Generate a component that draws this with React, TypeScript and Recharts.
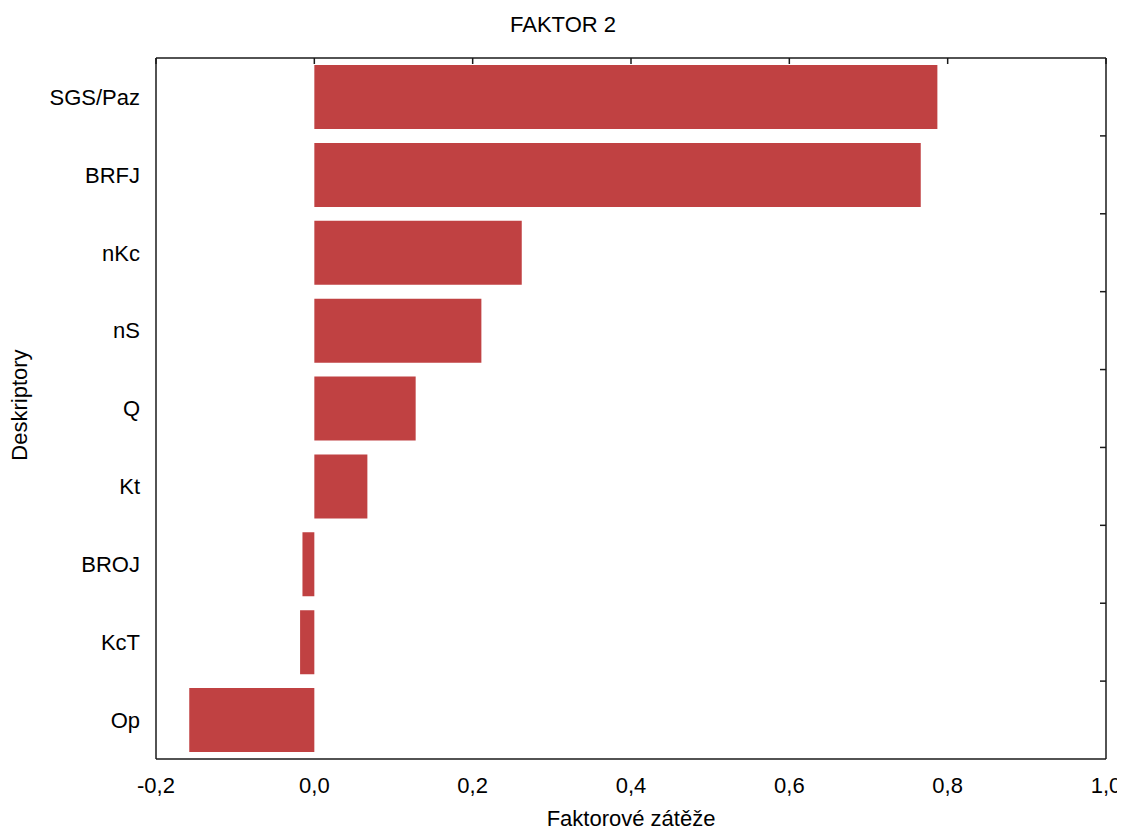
import React from 'react';
import { BarChart, Bar, XAxis, YAxis } from 'recharts';

// Loadings on factor 2, listed top to bottom
const descriptors = ['SGS/Paz', 'BRFJ', 'nKc', 'nS', 'Q', 'Kt', 'BROJ', 'KcT', 'Op'];
const loadings = [0.787, 0.766, 0.262, 0.211, 0.128, 0.067, -0.015, -0.018, -0.158];
const xTicks = [-0.2, 0, 0.2, 0.4, 0.6, 0.8, 1.0];

const data = descriptors.map((name, i) => ({ name, value: loadings[i] }));

const FONT = '"Liberation Sans", Arial, Helvetica, sans-serif';
const AXIS = '#1a1a1a';
const BAR = '#c04142';

const fmt = (v: number) => v.toFixed(1).replace('.', ',');
// frame axes keep their tick marks but show no labels
const noLabel = () => <g />;

// small inward tick on the right frame edge, between two categories
const BoundaryTick = (props: any) => {
  const { x, y, index, payload, height, visibleTicksCount } = props;
  if (index === 0) return <g />;
  const half = payload && payload.offset ? payload.offset : height / (2 * visibleTicksCount);
  const by = y - half;
  return <line x1={x} x2={x - 6} y1={by} y2={by} stroke={AXIS} strokeWidth={1.5} />;
};

export default function App() {
  return (
    <div style={{ fontFamily: FONT }}>
      <BarChart
        width={1117}
        height={824}
        data={data}
        layout="vertical"
        margin={{ top: 50, right: 19, bottom: 4, left: 0 }}
        barCategoryGap="9%"
      >
        <XAxis
          xAxisId="bottom"
          type="number"
          orientation="bottom"
          domain={[-0.2, 1.0]}
          ticks={xTicks}
          allowDataOverflow
          tickFormatter={fmt}
          tickLine={false}
          tickMargin={12}
          height={69}
          axisLine={{ stroke: AXIS, strokeWidth: 1.5 }}
          tick={{ fill: '#000', fontSize: 22, fontFamily: FONT }}
          label={{
            value: 'Faktorové zátěže',
            position: 'insideBottom',
            offset: 2,
            fill: '#000',
            fontSize: 22,
            fontFamily: FONT,
          }}
        />
        <XAxis
          xAxisId="top"
          type="number"
          orientation="top"
          domain={[-0.2, 1.0]}
          ticks={xTicks}
          allowDataOverflow
          height={6}
          mirror
          tick={noLabel}
          tickSize={6}
          tickLine={{ stroke: AXIS, strokeWidth: 1.5 }}
          axisLine={{ stroke: AXIS, strokeWidth: 1.5 }}
        />
        <YAxis
          yAxisId="cat"
          type="category"
          dataKey="name"
          width={148}
          tickLine={false}
          tickMargin={10}
          axisLine={{ stroke: AXIS, strokeWidth: 1.5 }}
          tick={{ fill: '#000', fontSize: 22, fontFamily: FONT }}
        />
        <YAxis
          yAxisId="frame"
          type="category"
          dataKey="name"
          orientation="right"
          width={6}
          mirror
          interval={0}
          tickSize={0}
          tickMargin={0}
          tickLine={false}
          tick={BoundaryTick}
          axisLine={{ stroke: AXIS, strokeWidth: 1.5 }}
        />
        <Bar
          dataKey="value"
          xAxisId="bottom"
          yAxisId="cat"
          fill={BAR}
          isAnimationActive={false}
        />
        <text x={555} y={24} textAnchor="middle" fontSize={22} fontFamily={FONT} fill="#000">
          FAKTOR 2
        </text>
        <text
          x={19}
          y={397}
          textAnchor="middle"
          fontSize={22}
          fontFamily={FONT}
          fill="#000"
          transform="rotate(-90 19 397)"
        >
          Deskriptory
        </text>
      </BarChart>
    </div>
  );
}
